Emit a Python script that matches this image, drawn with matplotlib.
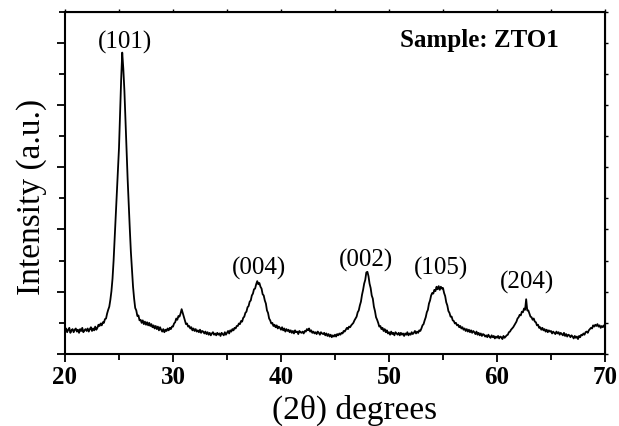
import numpy as np
import matplotlib
matplotlib.use("Agg")
import matplotlib.pyplot as plt
from matplotlib.ticker import MultipleLocator

# XRD pattern, 2theta from 20 to 70 deg in 0.1 deg steps
two_theta_start = 20.0
two_theta_step = 0.1
intensity = [
    36, 41, 35, 39, 42, 34, 38, 40, 35, 39,           # 20
    41, 36, 39, 34, 40, 37, 42, 35, 38, 40,           # 21
    37, 41, 36, 40, 43, 37, 41, 38, 44, 39,           # 22
    42, 47, 45, 49, 46, 51, 50, 56, 57, 65,           # 23
    71, 76, 87, 101, 121, 150, 186, 219, 256, 291,    # 24
    331, 386, 441, 484, 458, 423, 376, 333, 281, 240, # 25
    201, 164, 136, 108, 89, 74, 70, 61, 62, 54,       # 26
    55, 50, 54, 48, 52, 47, 51, 46, 50, 45,           # 27
    48, 43, 46, 41, 45, 40, 44, 38, 43, 39,           # 28
    36, 40, 35, 39, 37, 41, 38, 42, 40, 44,           # 29
    44, 49, 51, 57, 55, 61, 60, 65, 72, 66,           # 30
    60, 54, 48, 49, 44, 45, 41, 43, 38, 41,           # 31
    37, 40, 36, 38, 35, 39, 34, 37, 36, 33,           # 32
    36, 32, 35, 31, 34, 30, 33, 35, 31, 33,           # 33
    30, 34, 31, 33, 29, 34, 32, 30, 35, 31,           # 34
    34, 37, 33, 38, 36, 40, 38, 42, 41, 45,           # 35
    45, 49, 48, 53, 52, 58, 60, 66, 68, 75,           # 36
    77, 84, 86, 94, 97, 104, 105, 112, 117, 112,      # 37
    114, 108, 105, 96, 94, 86, 81, 70, 66, 57,        # 38
    54, 49, 50, 45, 47, 43, 46, 41, 44, 42,           # 39
    39, 43, 38, 41, 36, 40, 37, 39, 35, 38,           # 40
    34, 37, 33, 38, 35, 36, 32, 37, 35, 34,           # 41
    36, 33, 37, 36, 40, 38, 41, 36, 38, 34,           # 42
    36, 33, 35, 32, 36, 34, 31, 35, 33, 32,           # 43
    34, 30, 33, 29, 32, 28, 31, 27, 30, 28,           # 44
    31, 28, 32, 30, 33, 31, 34, 33, 37, 36,           # 45
    39, 42, 40, 44, 43, 46, 48, 50, 54, 57,           # 46
    60, 67, 70, 78, 84, 95, 103, 113, 119, 131,       # 47
    132, 125, 113, 106, 94, 89, 76, 69, 59, 55,       # 48
    50, 44, 45, 40, 42, 37, 40, 35, 38, 33,           # 49
    35, 31, 36, 32, 34, 30, 35, 33, 31, 34,           # 50
    30, 34, 31, 33, 29, 33, 31, 35, 30, 33,           # 51
    31, 35, 32, 34, 37, 33, 36, 34, 38, 37,           # 52
    41, 46, 48, 54, 59, 67, 71, 81, 86, 94,           # 53
    98, 97, 103, 101, 108, 104, 109, 103, 108, 105,   # 54
    106, 98, 93, 83, 78, 69, 66, 60, 60, 54,          # 55
    53, 49, 50, 46, 47, 43, 45, 41, 43, 39,           # 56
    41, 37, 40, 36, 39, 35, 38, 34, 37, 35,           # 57
    32, 36, 31, 34, 30, 33, 29, 32, 31, 28,           # 58
    30, 27, 31, 28, 26, 30, 27, 29, 25, 28,           # 59
    26, 29, 25, 28, 27, 24, 29, 26, 28, 30,           # 60
    31, 35, 36, 39, 41, 43, 46, 49, 52, 57,           # 61
    59, 63, 62, 68, 67, 73, 71, 88, 70, 70,           # 62
    65, 60, 59, 55, 57, 52, 51, 46, 47, 42,           # 63
    43, 39, 42, 38, 40, 36, 39, 35, 38, 36,           # 64
    37, 33, 36, 34, 32, 36, 33, 35, 31, 34,           # 65
    32, 30, 34, 29, 32, 28, 31, 30, 27, 30,           # 66
    28, 25, 29, 26, 28, 24, 29, 27, 31, 30,           # 67
    33, 31, 35, 36, 34, 38, 40, 42, 41, 46,           # 68
    44, 47, 45, 48, 44, 46, 42, 45, 43, 46,           # 69
    44,                                               # 70
]
two_theta = two_theta_start + two_theta_step * np.arange(len(intensity))

# peak labels (hkl) and where they sit
peak_labels = ["(101)", "(004)", "(002)", "(105)", "(204)"]
peak_label_x = [25.6, 38.0, 47.9, 54.8, 62.8]
peak_label_y = [502, 139, 152, 139, 117]

serif = ["Liberation Serif", "DejaVu Serif"]
plt.rcParams["font.family"] = serif

fig = plt.figure(figsize=(6.19, 4.27), dpi=100)
ax = fig.add_axes([0.105, 0.1686, 0.8724, 0.8021])

ax.plot(two_theta, intensity, color="black", lw=1.3)

for lab, x, y in zip(peak_labels, peak_label_x, peak_label_y):
    ax.text(x, y, lab, ha="center", va="center", fontsize=18)

ax.text(0.767, 0.918, "Sample: ZTO1", transform=ax.transAxes,
        ha="center", va="center", fontsize=18, fontweight="bold")

ax.set_xlim(20, 70)
ax.set_ylim(0, 550)
ax.xaxis.set_major_locator(MultipleLocator(10))
ax.xaxis.set_minor_locator(MultipleLocator(5))
ax.yaxis.set_major_locator(MultipleLocator(100))
ax.yaxis.set_minor_locator(MultipleLocator(50))
ax.set_yticklabels([])

ax.tick_params(which="major", direction="out", length=6, width=1.3)
ax.tick_params(which="minor", direction="out", length=4, width=1.3)
ax.tick_params(axis="x", labelsize=18, pad=2)
for t in ax.get_xticklabels():
    t.set_fontweight("bold")

for s in ax.spines.values():
    s.set_linewidth(1.5)

# tiny ticks on the top and right frame
top = ax.secondary_xaxis("top")
top.xaxis.set_major_locator(MultipleLocator(5))
top.tick_params(length=2, width=1, labeltop=False)
right = ax.secondary_yaxis("right")
right.yaxis.set_major_locator(MultipleLocator(50))
right.tick_params(length=2, width=1, labelright=False)

ax.set_xlabel("(2θ) degrees", fontsize=24, va="top")
ax.xaxis.set_label_coords(0.536, -0.115)
ax.set_ylabel("Intensity (a.u.)", fontsize=24, va="center")
ax.yaxis.set_label_coords(-0.061, 0.461)

fig.savefig("out.png", dpi=100)
